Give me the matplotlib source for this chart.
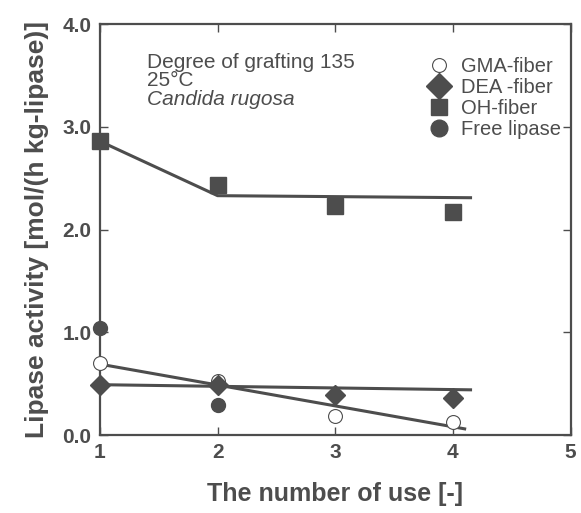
import matplotlib.pyplot as plt
from matplotlib.lines import Line2D

plt.rcParams['font.family'] = ['Liberation Sans', 'DejaVu Sans']

# measured points
uses = [1, 2, 3, 4]
gma = [0.70, 0.53, 0.19, 0.13]
dea = [0.49, 0.49, 0.39, 0.36]
oh = [2.86, 2.43, 2.23, 2.17]
free_uses = [1, 2]
free = [1.04, 0.29]

# fitted lines drawn through the data
oh_fit_x = [1, 2, 4.15]
oh_fit_y = [2.86, 2.33, 2.31]
gma_fit_x = [1, 4.1]
gma_fit_y = [0.69, 0.06]
dea_fit_x = [1, 4.15]
dea_fit_y = [0.49, 0.44]

gray = "#4d4d4d"

fig = plt.figure(figsize=(5.81, 5.13), dpi=100)
ax = fig.add_axes([0.172, 0.152, 0.81, 0.801])

ax.plot(oh_fit_x, oh_fit_y, color=gray, lw=2.2, zorder=2)
ax.plot(gma_fit_x, gma_fit_y, color=gray, lw=2.2, zorder=2)
ax.plot(dea_fit_x, dea_fit_y, color=gray, lw=2.2, zorder=2)

ax.plot(uses, gma, 'o', ms=10, mfc='white', mec=gray, mew=0.8, ls='none', zorder=3, clip_on=False)
ax.plot(uses, dea, 'D', ms=10, color=gray, ls='none', zorder=3, clip_on=False)
ax.plot(uses, oh, 's', ms=12, color=gray, ls='none', zorder=3, clip_on=False)
ax.plot(free_uses, free, 'o', ms=10, color=gray, ls='none', zorder=3, clip_on=False)

handles = [
    Line2D([], [], marker='o', ms=10, mfc='white', mec=gray, mew=0.8, ls='none'),
    Line2D([], [], marker='D', ms=13, color=gray, ls='none'),
    Line2D([], [], marker='s', ms=12, color=gray, ls='none'),
    Line2D([], [], marker='o', ms=12, color=gray, ls='none'),
]
labels = ["GMA-fiber", "DEA -fiber", "OH-fiber", "Free lipase"]
leg = ax.legend(handles, labels, loc='upper right', bbox_to_anchor=(1.01, 0.955),
                frameon=False, fontsize=14.5, labelspacing=0.1, handletextpad=0.6,
                handlelength=1.0, borderpad=0.2)
for t in leg.get_texts():
    t.set_color(gray)

ax.text(0.10, 0.93, "Degree of grafting 135", transform=ax.transAxes,
        fontsize=15, color=gray, va='top')
ax.text(0.10, 0.885, "25°C", transform=ax.transAxes, fontsize=15, color=gray, va='top')
ax.text(0.10, 0.84, "Candida rugosa", transform=ax.transAxes, fontsize=15,
        color=gray, va='top', style='italic')

ax.set_xlim(1, 5)
ax.set_ylim(0, 4)
ax.set_xticks([1, 2, 3, 4, 5])
ax.set_yticks([0, 1, 2, 3, 4])
ax.set_yticklabels(["0.0", "1.0", "2.0", "3.0", "4.0"])
ax.tick_params(direction='in', top=True, right=True, length=6, width=1,
               colors=gray, labelsize=15, pad=6)
for lab in ax.get_xticklabels() + ax.get_yticklabels():
    lab.set_fontweight('bold')
for s in ax.spines.values():
    s.set_color(gray)
    s.set_linewidth(1.6)

ax.set_xlabel("The number of use [-]", fontsize=18, fontweight='bold', color=gray, labelpad=14)
ax.set_ylabel("Lipase activity [mol/(h kg-lipase)]", fontsize=19, fontweight='bold',
              color=gray, labelpad=10)

fig.savefig("out.png", dpi=100)
